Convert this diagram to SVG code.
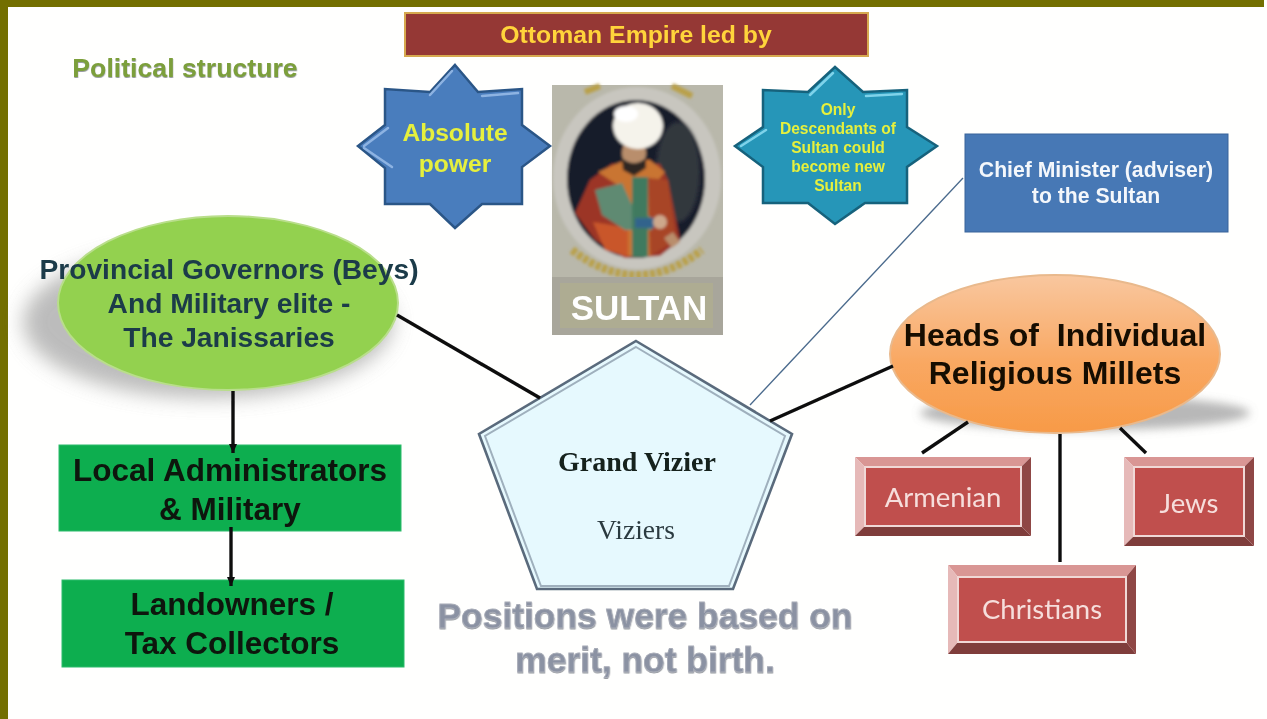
<svg xmlns="http://www.w3.org/2000/svg" width="1267" height="719" viewBox="0 0 1267 719">
<style>
text{font-family:"Liberation Sans",Arial,sans-serif;font-weight:700;text-anchor:middle}
.serif{font-family:"Liberation Serif","Times New Roman",serif}
.conn{stroke:#0c0c0c;stroke-width:3.4;fill:none;stroke-linecap:butt}
.green{fill:#0cae50;stroke:#2fbb6a;stroke-width:1}
.gt{font-size:31.5px;fill:#08160c}
.prov{font-size:28.2px;fill:#1a3a48}
.rel{font-size:32px;fill:#140d05}
.redt{font-family:Lato,"Liberation Sans",sans-serif;font-weight:400;font-size:27.5px;fill:#f6dedc}
.star1{fill:#4a7dbd;stroke:#2c5687;stroke-width:2.5}
.star2{fill:#2696b8;stroke:#17627c;stroke-width:2.5}
.hl{fill:none;stroke-width:2.5;stroke-linecap:round}
.y{fill:#e6f03c}
.grayt{font-size:35.4px;fill:#8b92a3;stroke:#a9adb8;stroke-width:.8}
.bt{fill:#d99694}.bl{fill:#e6b9b8}.bb{fill:#7f3d3b}.br{fill:#8f4644}.bf{fill:#c0504d;stroke:#f0d8d6;stroke-width:2}
</style>
<defs>
<filter id="blur" x="-30%" y="-30%" width="160%" height="160%"><feGaussianBlur stdDeviation="10"/></filter>
<filter id="soft" x="-5%" y="-5%" width="110%" height="110%"><feGaussianBlur stdDeviation="0.6"/></filter>
<filter id="ps" x="-30%" y="-60%" width="160%" height="220%"><feGaussianBlur stdDeviation="5"/></filter>
<filter id="paint" x="-5%" y="-5%" width="110%" height="110%"><feGaussianBlur stdDeviation="1.4"/></filter>
<filter id="tsh" x="-5%" y="-20%" width="110%" height="140%"><feDropShadow dx="0.3" dy="1" stdDeviation="0.7" flood-color="#555b66" flood-opacity=".6"/></filter>
<linearGradient id="org" x1="0" y1="0" x2="0" y2="1"><stop offset="0" stop-color="#f9c79f"/><stop offset="0.55" stop-color="#f9a862"/><stop offset="1" stop-color="#f79a47"/></linearGradient>
<marker id="arr" markerUnits="userSpaceOnUse" markerWidth="10" markerHeight="8" refX="9" refY="4" orient="auto"><path d="M0 0L9 4L0 8z" fill="#0c0c0c"/></marker>
</defs>
<rect width="1267" height="719" fill="#fffffe"/>
<g id="frame"><rect width="1264" height="7" fill="#736f00"/><rect width="8" height="719" fill="#736f00"/></g>

<g filter="url(#soft)">
<g id="title"><rect x="405" y="13" width="463" height="43" fill="#953735" stroke="#d6a94f" stroke-width="2"/><text x="636" y="43" font-size="24.8" fill="#ffd43a">Ottoman Empire led by</text></g>
<text id="political" x="185" y="77" font-size="26.7" fill="#7c9f3b" filter="url(#tsh)">Political structure</text>

<g id="absolute-power"><path class="star1" d="M455 65L478 92L522 89L522 125L550 146L522 167L522 204L482 204L455 228L430 204L385 204L385 168L358 146L385 125L385 89L430 92Z"/>
<path class="hl" stroke="#8db3e2" d="M452 71L430 95M482 96L518 93M364 146L388 128M364 148L392 167"/>
<text class="y" x="455" y="141" font-size="24.6">Absolute</text><text class="y" x="455" y="172" font-size="24.6">power</text></g>

<g id="sultan">
<rect x="552" y="85" width="171" height="250" fill="#b9b8ab"/>
<g filter="url(#paint)">
<path d="M572 250Q637 300 702 250" fill="none" stroke="#b9a04a" stroke-width="8" stroke-dasharray="5 2"/>
<path d="M585 92L600 86M672 86L692 96" fill="none" stroke="#b9a04a" stroke-width="6"/>
<ellipse cx="637" cy="178" rx="84" ry="91" fill="#c8c6bf"/>
<ellipse cx="636" cy="179" rx="69" ry="79" fill="#171b2b"/>
<ellipse cx="678" cy="172" rx="22" ry="50" fill="#33383e" filter="url(#paint)"/>
<path d="M575 213L590 180L612 164L660 164L668 180L680 240L660 256L625 258L595 240Z" fill="#9c3626"/>
<path d="M598 172L625 160L650 160L665 172L650 190L652 256L625 256L622 188Z" fill="#c97433"/>
<path d="M593 222L628 228L628 257L605 250Z" fill="#c9572b"/>
<path d="M648 178L668 180L676 240L650 256Z" fill="#a84428"/>
<path d="M595 190L622 183L632 205L652 218L652 230L625 230L602 215Z" fill="#5f8a72"/>
<rect x="632" y="177" width="16" height="80" fill="#3f7a5f"/>
<path d="M635 218H654V228H635Z" fill="#33648c"/>
<ellipse cx="634" cy="153" rx="12" ry="15" fill="#b98e6c"/>
<path d="M622 158Q634 168 646 158L646 168L634 176L623 170Z" fill="#2e2620"/>
<ellipse cx="638" cy="126" rx="25" ry="23" fill="#f5f3eb"/>
<ellipse cx="626" cy="114" rx="12" ry="8" fill="#fff"/>
<circle cx="660" cy="222" r="7" fill="#cda88c"/>
<path d="M673 232L680 242L672 248L664 238Z" fill="#b98e6c"/>
</g>
<rect x="552" y="277" width="171" height="58" fill="#a8a69b"/>
<rect x="560" y="283" width="153" height="45" fill="#aeac92"/>
<text x="639" y="320" font-size="35" fill="#fff">SULTAN</text>
</g>

<g id="descendants"><path class="star2" d="M835 67L863 92L907 90L907 127L937 146L907 167L907 203L865 203L835 224L808 203L763 203L763 167L735 146L763 127L763 90L808 92Z"/>
<path class="hl" stroke="#7fd3ea" d="M833 73L810 95M866 96L902 94M741 146L766 130"/>
<g font-size="15.6" class="y"><text x="838" y="115">Only</text><text x="838" y="134">Descendants of</text><text x="838" y="153">Sultan could</text><text x="838" y="172">become new</text><text x="838" y="191">Sultan</text></g></g>

<g id="chief-minister"><rect x="965" y="134" width="263" height="98" fill="#4778b5" stroke="#3a6399" stroke-width="1"/><text x="1096" y="177" font-size="21.2" fill="#f4f7fb">Chief Minister (adviser)</text><text x="1096" y="203" font-size="21.2" fill="#f4f7fb">to the Sultan</text></g>

<g id="provincial-governors">
<ellipse cx="208" cy="322" rx="185" ry="76" fill="#8f8f8f" opacity=".6" filter="url(#blur)"/>
<ellipse cx="228" cy="303" rx="170" ry="87" fill="#93d150" stroke="#b9de8b" stroke-width="2"/>
<text class="prov" x="229" y="279">Provincial Governors (Beys)</text><text class="prov" x="229" y="313">And Military elite -</text><text class="prov" x="229" y="347">The Janissaries</text></g>

<g id="local-admin"><rect class="green" x="59" y="445" width="342" height="86"/><text class="gt" x="230" y="481">Local Administrators</text><text class="gt" x="230" y="520">&amp; Military</text></g>
<g id="landowners"><rect class="green" x="62" y="580" width="342" height="87"/><text class="gt" x="232" y="615">Landowners /</text><text class="gt" x="232" y="654">Tax Collectors</text></g>

<g id="grand-vizier">
<path d="M636 341L792 434L733 589H537L479 434Z" fill="#e6f9fe" stroke="#5a6b7c" stroke-width="2.6"/>
<path d="M636 347L785 436L729 586H541L485 436Z" fill="none" stroke="#9fb0bd" stroke-width="2"/>
<text class="serif" x="637" y="471" font-size="28" fill="#14201f" style="font-family:'Liberation Serif',serif">Grand Vizier</text>
<text class="serif" x="636" y="539" font-size="27.5" fill="#2c3a40" style="font-family:'Liberation Serif',serif;font-weight:400">Viziers</text>
</g>
<g id="merit-note" filter="url(#tsh)"><text class="grayt" x="645" y="628">Positions were based on</text><text class="grayt" x="645" y="672">merit, not birth.</text></g>

<g id="religious-millets">
<ellipse cx="1085" cy="413" rx="165" ry="17" fill="#9a9a9a" opacity=".7" filter="url(#ps)"/>
<ellipse cx="1055" cy="354" rx="165" ry="79" fill="url(#org)" stroke="#e9b98c" stroke-width="2"/>
<text class="rel" x="1055" y="346" xml:space="preserve">Heads of  Individual</text><text class="rel" x="1055" y="384">Religious Millets</text></g>

<g id="armenian"><path class="bt" d="M855 457H1031L1021 467H865Z"/><path class="bl" d="M855 457L865 467V526L855 536Z"/><path class="bb" d="M855 536H1031L1021 526H865Z"/><path class="br" d="M1031 457V536L1021 526V467Z"/><rect class="bf" x="865" y="467" width="156" height="59"/><text class="redt" x="943" y="507">Armenian</text></g>
<g id="jews"><path class="bt" d="M1124 457H1254L1244 467H1134Z"/><path class="bl" d="M1124 457L1134 467V536L1124 546Z"/><path class="bb" d="M1124 546H1254L1244 536H1134Z"/><path class="br" d="M1254 457V546L1244 536V467Z"/><rect class="bf" x="1134" y="467" width="110" height="69"/><text class="redt" x="1189" y="513">Jews</text></g>
<g id="christians"><path class="bt" d="M948 565H1136L1126 577H958Z"/><path class="bl" d="M948 565L958 577V642L948 654Z"/><path class="bb" d="M948 654H1136L1126 642H958Z"/><path class="br" d="M1136 565V654L1126 642V577Z"/><rect class="bf" x="958" y="577" width="168" height="65"/><text class="redt" x="1042" y="619">Christians</text></g>

<g id="connectors">
<line class="conn" x1="397" y1="315" x2="540" y2="398"/>
<line class="conn" x1="233" y1="391" x2="233" y2="453" marker-end="url(#arr)"/>
<line class="conn" x1="231" y1="527" x2="231" y2="586" marker-end="url(#arr)"/>
<line class="conn" x1="770" y1="421" x2="893" y2="366"/>
<line class="conn" x1="968" y1="422" x2="922" y2="453"/>
<line class="conn" x1="1060" y1="434" x2="1060" y2="562"/>
<line class="conn" x1="1120" y1="428" x2="1146" y2="453"/>
<line x1="750" y1="405" x2="963" y2="178" stroke="#4a6a8c" stroke-width="1.3"/>
</g>
</g>
</svg>
